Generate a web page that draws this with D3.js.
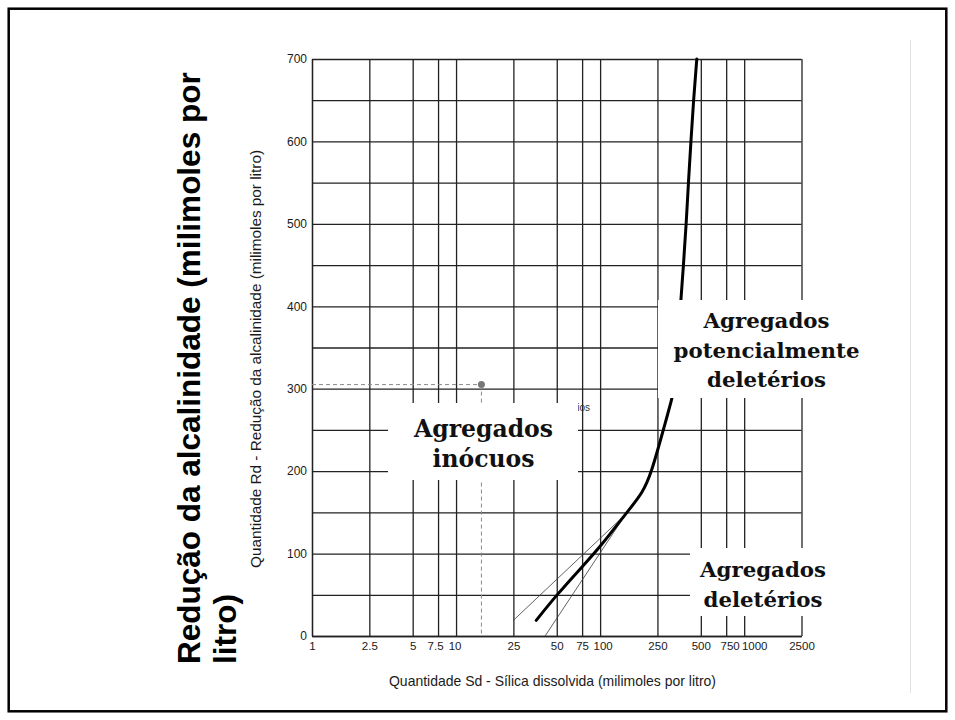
<!DOCTYPE html>
<html>
<head>
<meta charset="utf-8">
<script src="https://cdn.jsdelivr.net/npm/d3@7"></script>
<style>
    body { margin: 0; background: #fff; }
    svg { display: block; font-family: "Liberation Sans", Arial, sans-serif; }
</style>
</head>
<body>
<svg width="955" height="720"></svg>
<script>

//  Chart values
const xTickValues = [1, 2.5, 5, 7.5, 10, 25, 50, 75, 100, 250, 500, 750, 1000, 2500];
const yGridValues = [0, 50, 100, 150, 200, 250, 300, 350, 400, 450, 500, 550, 600, 650, 700];
const yTickLabels = [0, 100, 200, 300, 400, 500, 600, 700];

//  Main curve (Sd, Rd)
const curveSd = [36, 50, 75, 100, 153, 199, 228, 255, 280, 315, 329, 361, 379, 396, 410, 427, 445, 469];
const curveRd = [19, 50, 84, 108, 150, 174, 200, 230, 255, 288, 301, 400, 450, 500, 550, 600, 650, 700];

//  Thin limit lines
const upperLimitSd = [25, 151];
const upperLimitRd = [19, 148];
const lowerLimitSd = [41.5, 151];
const lowerLimitRd = [0, 148];

//  Reference sample point
const sampleSd = 15;
const sampleRd = 305;

const zoneLabels = [
    ['Agregados', 'inócuos'],
    ['Agregados', 'potencialmente', 'deletérios'],
    ['Agregados', 'deletérios']
];
const hiddenLabel = 'Agregados potencialmente deletérios';


drawChart();


function drawChart() {

    const svg = d3.select('svg');

    const plot = { left: 312, right: 801.5, top: 59, bottom: 636 };
    const gridColor = '#222';
    const serif = '"DejaVu Serif", Georgia, serif';

    //  small nudges so crowded x labels do not collide (as in the original)
    const xLabelShift = { 7.5: -3, 10: -1.5, 100: 2.5, 750: 3.5, 1000: 10 };

    //======================================
    //  Outer frame
    //========================================
    svg.append('rect')
        .attr('x', 8.7)
        .attr('y', 8.7)
        .attr('width', 955 - 17.4)
        .attr('height', 720 - 17.4)
        .attr('fill', 'none')
        .attr('stroke', '#000')
        .attr('stroke-width', 2.5);

    svg.append('line')
        .attr('x1', 910.5).attr('x2', 910.5)
        .attr('y1', 40).attr('y2', 693)
        .attr('stroke', '#e2e2e2')
        .attr('stroke-width', 1);


    //======================================
    //  Scales
    //========================================
    const xScale = d3.scaleLog()
        .domain([1, 2500])
        .range([plot.left, plot.right]);

    const yScale = d3.scaleLinear()
        .domain([0, 700])
        .range([plot.bottom, plot.top]);


    //======================================
    //  X Axis + vertical grid
    //========================================
    const xAxisGroup = svg.append('g')
        .attr('transform', `translate(0, ${plot.bottom})`)
        .call(d3.axisBottom(xScale)
            .tickValues(xTickValues)
            .tickFormat(d => d)
            .tickSizeInner(-(plot.bottom - plot.top))
            .tickSizeOuter(0)
            .tickPadding(6));

    xAxisGroup.selectAll('.tick text')
        .attr('dx', d => xLabelShift[d] || 0)
        .attr('font-size', 11.5);

    //======================================
    //  Y Axis + horizontal grid
    //========================================
    const yAxisGroup = svg.append('g')
        .attr('transform', `translate(${plot.left}, 0)`)
        .call(d3.axisLeft(yScale)
            .tickValues(yGridValues)
            .tickFormat(d => yTickLabels.includes(d) ? d : '')
            .tickSizeInner(-(plot.right - plot.left))
            .tickSizeOuter(0)
            .tickPadding(5));

    [xAxisGroup, yAxisGroup].forEach(g => {
        g.attr('font-family', '"Liberation Sans", Arial, sans-serif')
            .attr('font-size', 12);
        g.selectAll('line, path')
            .attr('stroke', gridColor)
            .attr('stroke-width', 1.3);
        g.selectAll('text').attr('fill', '#1a1a1a');
    });


    //======================================
    //  Axis titles (original chart)
    //========================================
    svg.append('text')
        .text('Quantidade Sd - Sílica dissolvida (milimoles por litro)')
        .attr('x', 389)
        .attr('y', 686)
        .attr('font-size', 14.5)
        .attr('textLength', 327)
        .attr('lengthAdjust', 'spacingAndGlyphs')
        .attr('fill', '#1a1a1a');

    svg.append('text')
        .text('Quantidade Rd - Redução da alcalinidade (milimoles por litro)')
        .attr('transform', 'translate(261, 568) rotate(-90)')
        .attr('font-size', 15)
        .attr('textLength', 418)
        .attr('lengthAdjust', 'spacingAndGlyphs')
        .attr('fill', '#1a1a1a');

    //  Big slide title on the left
    const bigTitle = svg.append('text')
        .attr('transform', 'translate(200, 664) rotate(-90)')
        .attr('font-size', 31.5)
        .attr('font-weight', 'bold')
        .attr('fill', '#000');
    bigTitle.append('tspan')
        .attr('x', 0).attr('dy', 0)
        .text('Redução da alcalinidade (milimoles por');
    bigTitle.append('tspan')
        .attr('x', 0).attr('dy', 36)
        .text('litro)');


    //======================================
    //  Reference sample (dashed)
    //========================================
    const dashed = svg.append('g')
        .attr('stroke', '#8a8a8a')
        .attr('stroke-width', 1)
        .attr('stroke-dasharray', '4,3');
    dashed.append('line')
        .attr('x1', xScale(1)).attr('x2', xScale(sampleSd))
        .attr('y1', yScale(sampleRd)).attr('y2', yScale(sampleRd));
    dashed.append('line')
        .attr('x1', xScale(sampleSd)).attr('x2', xScale(sampleSd))
        .attr('y1', yScale(sampleRd)).attr('y2', yScale(0));

    svg.append('circle')
        .attr('cx', xScale(sampleSd))
        .attr('cy', yScale(sampleRd))
        .attr('r', 3.5)
        .attr('fill', '#777');

    //  Original small label, mostly hidden behind the white box
    svg.append('text')
        .text(hiddenLabel)
        .attr('x', 590)
        .attr('y', 411)
        .attr('text-anchor', 'end')
        .attr('font-size', 10)
        .attr('fill', '#333');


    //======================================
    //  Curves
    //========================================
    const straight = d3.line()
        .x(d => xScale(d[0]))
        .y(d => yScale(d[1]));

    const smooth = d3.line()
        .x(d => xScale(d[0]))
        .y(d => yScale(d[1]))
        .curve(d3.curveBasis);

    [[upperLimitSd, upperLimitRd], [lowerLimitSd, lowerLimitRd]].forEach(([sd, rd]) => {
        svg.append('path')
            .attr('d', straight(d3.zip(sd, rd)))
            .attr('fill', 'none')
            .attr('stroke', '#3a3a3a')
            .attr('stroke-width', 0.8);
    });

    svg.append('path')
        .attr('d', smooth(d3.zip(curveSd, curveRd)))
        .attr('fill', 'none')
        .attr('stroke', '#000')
        .attr('stroke-width', 3)
        .attr('stroke-linecap', 'round')
        .attr('stroke-linejoin', 'round');


    //======================================
    //  Zone labels on white boxes
    //========================================
    const boxes = [
        { x: 388, y: 403, w: 190, h: 77, cx: 483.5, base: 437, step: 30, size: 23.5 },
        { x: 658, y: 300, w: 217, h: 98, cx: 766.5, base: 328, step: 29.5, size: 21.3 },
        { x: 690, y: 548, w: 150, h: 68, cx: 763, base: 576.5, step: 30, size: 21.3 }
    ];

    boxes.forEach((b, i) => {
        svg.append('rect')
            .attr('x', b.x).attr('y', b.y)
            .attr('width', b.w).attr('height', b.h)
            .attr('fill', '#fff');

        svg.append('g')
            .selectAll('text')
            .data(zoneLabels[i])
            .enter()
            .append('text')
            .text(d => d)
            .attr('x', b.cx)
            .attr('y', (d, j) => b.base + j * b.step)
            .attr('text-anchor', 'middle')
            .attr('font-family', serif)
            .attr('font-weight', 'bold')
            .attr('font-size', b.size)
            .attr('fill', '#111');
    });
}

</script>
</body>
</html>
